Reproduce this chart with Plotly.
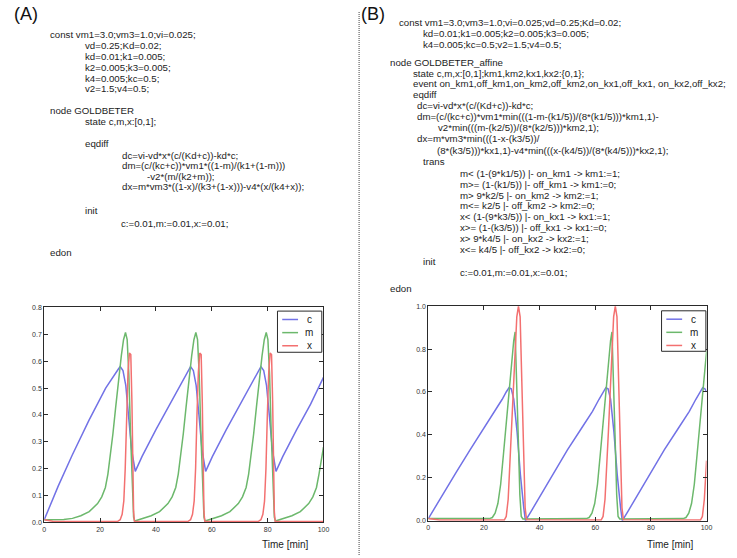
import plotly.graph_objects as go

# ---------------------------------------------------------------------------
# Simulated trajectories (time in minutes, concentrations)
# Panel A: continuous GOLDBETER model
# ---------------------------------------------------------------------------
a_c_t = [0, 5, 10, 16, 22, 25, 26.5, 27.2, 28.2, 29.2, 30.2, 31.3, 32.6,
         35, 40, 45, 49, 51, 52.4, 53.4, 54.4, 55.4, 56.5, 57.8,
         60.2, 65.2, 70.2, 74.2, 76.2, 77.6, 78.6, 79.6, 80.6, 81.7, 83.0,
         85.4, 90.4, 95.4, 100]
a_c = [0.01, 0.135, 0.25, 0.38, 0.50, 0.55, 0.57, 0.58, 0.565, 0.51, 0.40, 0.27, 0.19,
       0.245, 0.345, 0.44, 0.515, 0.555, 0.58, 0.565, 0.51, 0.40, 0.27, 0.19,
       0.245, 0.345, 0.44, 0.515, 0.555, 0.58, 0.565, 0.51, 0.40, 0.27, 0.19,
       0.245, 0.345, 0.44, 0.54]

a_m_t = [0, 4, 7,
         10.1, 13.1, 16.1, 19.1, 20.6, 21.9, 22.8, 23.6, 24.6, 25.6, 26.6, 27.6, 28.4,
         29.1, 29.7, 30.3, 30.9, 31.5, 32.0, 32.4,
         35.3, 38.3, 41.3, 44.3, 45.8, 47.1, 48.0, 48.8, 49.8, 50.8, 51.8, 52.8, 53.6,
         54.3, 54.9, 55.5, 56.1, 56.7, 57.2, 57.6,
         60.5, 63.5, 66.5, 69.5, 71.0, 72.3, 73.2, 74.0, 75.0, 76.0, 77.0, 78.0, 78.8,
         79.5, 80.1, 80.7, 81.3, 81.9, 82.4, 82.8,
         85.7, 88.7, 91.7, 94.7, 96.2, 97.5, 98.4, 99.2, 100]
a_m = [0.01, 0.009, 0.011,
       0.015, 0.025, 0.04, 0.07, 0.095, 0.13, 0.18, 0.24, 0.33, 0.43, 0.53, 0.62, 0.68,
       0.707, 0.68, 0.55, 0.33, 0.12, 0.02, 0.005,
       0.015, 0.025, 0.04, 0.07, 0.095, 0.13, 0.18, 0.24, 0.33, 0.43, 0.53, 0.62, 0.68,
       0.707, 0.68, 0.55, 0.33, 0.12, 0.02, 0.005,
       0.015, 0.025, 0.04, 0.07, 0.095, 0.13, 0.18, 0.24, 0.33, 0.43, 0.53, 0.62, 0.68,
       0.707, 0.68, 0.55, 0.33, 0.12, 0.02, 0.005,
       0.015, 0.025, 0.04, 0.07, 0.095, 0.13, 0.18, 0.24, 0.28]

a_x_t = [0, 3,
         26.2, 27.2, 27.9, 28.5, 29.0, 29.5, 30.0, 30.5, 31.0, 31.4, 31.7, 32.0, 32.3,
         51.4, 52.4, 53.1, 53.7, 54.2, 54.7, 55.2, 55.7, 56.2, 56.6, 56.9, 57.2, 57.5,
         76.6, 77.6, 78.3, 78.9, 79.4, 79.9, 80.4, 80.9, 81.4, 81.8, 82.1, 82.4, 82.7,
         100]
a_x = [0.01, 0.004,
       0.003, 0.01, 0.03, 0.08, 0.2, 0.4, 0.56, 0.63, 0.625, 0.45, 0.2, 0.04, 0.003,
       0.003, 0.01, 0.03, 0.08, 0.2, 0.4, 0.56, 0.63, 0.625, 0.45, 0.2, 0.04, 0.003,
       0.003, 0.01, 0.03, 0.08, 0.2, 0.4, 0.56, 0.63, 0.625, 0.45, 0.2, 0.04, 0.003,
       0.003]

# Panel B: GOLDBETER_affine (piecewise-affine hybrid model)
b_c_t = [0, 5, 10, 15, 20, 24, 26.5, 28, 29, 29.8, 30.7, 31.9, 33.1, 34.3, 34.9,
         37, 40, 45, 50, 55, 59, 61.3, 62.8, 63.8, 64.6, 65.5, 66.7, 67.9, 69.1, 69.7,
         71.8, 74.8, 79.8, 84.8, 89.8, 93.8, 96.1, 97.6, 98.6, 99.4, 100]
b_c = [0.01, 0.12, 0.225, 0.33, 0.43, 0.51, 0.565, 0.6, 0.62, 0.615, 0.567, 0.414, 0.214, 0.06, 0.0,
       0.045, 0.11, 0.22, 0.33, 0.43, 0.51, 0.565, 0.6, 0.62, 0.615, 0.567, 0.414, 0.214, 0.06, 0.0,
       0.045, 0.11, 0.22, 0.33, 0.43, 0.51, 0.565, 0.6, 0.62, 0.615, 0.6]

b_m_t = [0, 10, 22.0, 23.0, 24.0, 25.0, 26.0, 27.0, 28.0, 29.0, 30.0, 30.7, 31.2, 31.7, 32.3, 32.9, 33.4, 34.0,
         56.8, 57.8, 58.8, 59.8, 60.8, 61.8, 62.8, 63.8, 64.8, 65.5, 66.0, 66.5, 67.1, 67.7, 68.2, 68.8,
         91.6, 92.6, 93.6, 94.6, 95.6, 96.6, 97.6, 98.6, 99.6, 100]
b_m = [0.01, 0.01, 0.01, 0.015, 0.035, 0.08, 0.17, 0.31, 0.46, 0.62, 0.75, 0.84, 0.88, 0.70, 0.40, 0.12, 0.02, 0.008,
       0.01, 0.015, 0.035, 0.08, 0.17, 0.31, 0.46, 0.62, 0.75, 0.84, 0.88, 0.70, 0.40, 0.12, 0.02, 0.008,
       0.01, 0.015, 0.035, 0.08, 0.17, 0.31, 0.46, 0.62, 0.75, 0.79]

b_x_t = [0, 4, 27.3, 28.0, 28.7, 29.9, 31.0, 31.8, 32.4, 33.0, 33.6, 34.2, 34.8, 35.3,
         62.1, 62.8, 63.5, 64.7, 65.8, 66.6, 67.2, 67.8, 68.4, 69.0, 69.6, 70.1,
         97.8, 98.5, 99.2, 100]
b_x = [0.01, 0.003, 0.003, 0.02, 0.1, 0.41, 0.72, 0.95, 1.0, 0.95, 0.65, 0.3, 0.06, 0.005,
       0.003, 0.02, 0.1, 0.41, 0.72, 0.95, 1.0, 0.95, 0.65, 0.3, 0.06, 0.005,
       0.003, 0.02, 0.1, 0.28]

series_names = ["c", "m", "x"]
x_ticks = [0, 20, 40, 60, 80, 100]
a_y_ticks = [0.0, 0.1, 0.2, 0.3, 0.4, 0.5, 0.6, 0.7, 0.8]
b_y_ticks = [0.0, 0.2, 0.4, 0.6, 0.8, 1.0]
x_title = "Time [min]"

# ---------------------------------------------------------------------------
# Model listings printed above each plot
# ---------------------------------------------------------------------------
listing_a = [
    (47.7, 31.0, "const vm1=3.0;vm3=1.0;vi=0.025;"),
    (83.3, 42.0, "vd=0.25;Kd=0.02;"),
    (83.3, 53.0, "kd=0.01;k1=0.005;"),
    (83.3, 64.0, "k2=0.005;k3=0.005;"),
    (83.3, 75.0, "k4=0.005;kc=0.5;"),
    (83.3, 85.7, "v2=1.5;v4=0.5;"),
    (47.7, 108.3, "node GOLDBETER"),
    (83.3, 119.0, "state c,m,x:[0,1];"),
    (83.3, 141.7, "eqdiff"),
    (120.0, 153.0, "dc=vi-vd*x*(c/(Kd+c))-kd*c;"),
    (120.0, 163.7, "dm=(c/(kc+c))*vm1*((1-m)/(k1+(1-m)))"),
    (145.7, 174.3, "-v2*(m/(k2+m));"),
    (120.0, 185.0, "dx=m*vm3*((1-x)/(k3+(1-x)))-v4*(x/(k4+x));"),
    (83.3, 209.0, "init"),
    (119.0, 222.5, "c:=0.01,m:=0.01,x:=0.01;"),
    (47.7, 251.7, "edon"),
]

listing_b = [
    (400.0, 19.0, "const vm1=3.0;vm3=1.0;vi=0.025;vd=0.25;Kd=0.02;"),
    (425.0, 30.0, "kd=0.01;k1=0.005;k2=0.005;k3=0.005;"),
    (425.0, 41.0, "k4=0.005;kc=0.5;v2=1.5;v4=0.5;"),
    (391.7, 59.0, "node GOLDBETER_affine"),
    (415.0, 70.0, "state c,m,x:[0,1];km1,km2,kx1,kx2:{0,1};"),
    (415.0, 81.0, "event on_km1,off_km1,on_km2,off_km2,on_kx1,off_kx1, on_kx2,off_kx2;"),
    (415.0, 92.0, "eqdiff"),
    (418.3, 103.0, "dc=vi-vd*x*(c/(Kd+c))-kd*c;"),
    (418.3, 114.0, "dm=(c/(kc+c))*vm1*min(((1-m-(k1/5))/(8*(k1/5)))*km1,1)-"),
    (440.0, 125.0, "v2*min(((m-(k2/5))/(8*(k2/5)))*km2,1);"),
    (418.3, 136.5, "dx=m*vm3*min(((1-x-(k3/5))/"),
    (438.3, 148.0, "(8*(k3/5)))*kx1,1)-v4*min(((x-(k4/5))/(8*(k4/5)))*kx2,1);"),
    (425.0, 160.0, "trans"),
    (461.7, 171.5, "m&lt; (1-(9*k1/5)) |- on_km1 -&gt; km1:=1;"),
    (461.7, 182.5, "m&gt;= (1-(k1/5)) |- off_km1 -&gt; km1:=0;"),
    (461.7, 193.5, "m&gt; 9*k2/5 |- on_km2 -&gt; km2:=1;"),
    (461.7, 204.5, "m&lt;= k2/5 |- off_km2 -&gt; km2:=0;"),
    (461.7, 215.5, "x&lt; (1-(9*k3/5)) |- on_kx1 -&gt; kx1:=1;"),
    (461.7, 226.5, "x&gt;= (1-(k3/5)) |- off_kx1 -&gt; kx1:=0;"),
    (461.7, 237.5, "x&gt; 9*k4/5 |- on_kx2 -&gt; kx2:=1;"),
    (461.7, 248.5, "x&lt;= k4/5 |- off_kx2 -&gt; kx2:=0;"),
    (425.0, 261.0, "init"),
    (461.7, 272.0, "c:=0.01,m:=0.01,x:=0.01;"),
    (391.7, 288.0, "edon"),
]

# ---------------------------------------------------------------------------
# Figure geometry (pixels -> paper coordinates)
# ---------------------------------------------------------------------------
W, H = 737, 558
FONT = "Liberation Sans, Arial, sans-serif"
TEXT_COLOR = "#1c1c1c"
AXIS_COLOR = "#2a2a2a"
LINE_COLORS = ["#7272e6", "#6cb86c", "#f37070"]


def px(x):
    return x / W


def py(y):
    return 1 - y / H


panels = [
    # (axis suffix, domain x px, domain y px, y ticks, data, legend box px, title x px)
    ("", (42.7, 325.0), (525.0, 307.3), a_y_ticks,
     [(a_c_t, a_c), (a_m_t, a_m), (a_x_t, a_x)], (278.5, 311.0, 323.3, 352.7), 287.0),
    ("2", (431.0, 712.3), (523.3, 306.0), b_y_ticks,
     [(b_c_t, b_c), (b_m_t, b_m), (b_x_t, b_x)], (666.8, 310.7, 711.6, 351.7), 676.0),
]

fig = go.Figure()
shapes = []
annotations = []
layout_axes = {}

for suffix, (x0, x1), (y0, y1), yticks, series, (lx0, ly0, lx1, ly1), title_x in panels:
    xa = "x" + suffix
    ya = "y" + suffix
    for (t, v), name, color in zip(series, series_names, LINE_COLORS):
        fig.add_trace(go.Scatter(
            x=t, y=v, mode="lines", name=name, xaxis=xa, yaxis=ya,
            line=dict(color=color, width=1.5), showlegend=False,
            hoverinfo="skip",
        ))
    common = dict(
        showgrid=False, zeroline=False, showline=True, linecolor=AXIS_COLOR,
        linewidth=1, mirror="allticks", ticks="inside", ticklen=4,
        tickcolor=AXIS_COLOR, tickwidth=1,
        tickfont=dict(family=FONT, size=7, color="#333333"),
    )
    layout_axes["xaxis" + suffix] = dict(
        common, domain=[px(x0), px(x1)], anchor=ya, range=[0, 100],
        tickvals=x_ticks, ticktext=[str(v) for v in x_ticks],
    )
    layout_axes["yaxis" + suffix] = dict(
        common, domain=[py(y0), py(y1)], anchor=xa,
        range=[yticks[0], yticks[-1]], tickvals=yticks,
        ticktext=["%.1f" % v for v in yticks],
    )

    # legend box drawn in the upper-right corner of the axes
    shapes.append(dict(type="rect", xref="paper", yref="paper",
                       x0=px(lx0), x1=px(lx1), y0=py(ly1), y1=py(ly0),
                       line=dict(color=AXIS_COLOR, width=1), fillcolor="white",
                       layer="above"))
    for i, (name, color) in enumerate(zip(series_names, LINE_COLORS)):
        ey = ly0 + 8.5 + i * 13.3
        shapes.append(dict(type="line", xref="paper", yref="paper",
                           x0=px(lx1 - 40), x1=px(lx1 - 24), y0=py(ey), y1=py(ey),
                           line=dict(color=color, width=1.5), layer="above"))
        annotations.append(dict(xref="paper", yref="paper", x=px(lx1 - 12.5),
                                y=py(ey), text=name, showarrow=False,
                                xanchor="center", yanchor="middle",
                                font=dict(family=FONT, size=10, color=TEXT_COLOR)))

    annotations.append(dict(xref="paper", yref="paper", x=px(title_x), y=py(547),
                            text=x_title, showarrow=False, xanchor="center",
                            yanchor="middle",
                            font=dict(family=FONT, size=10, color=TEXT_COLOR)))

# code listings
for x, y, line in listing_a + listing_b:
    annotations.append(dict(xref="paper", yref="paper", x=px(x), y=py(y),
                            text=line, showarrow=False, xanchor="left",
                            yanchor="middle", borderpad=0,
                            font=dict(family=FONT, size=9.7, color=TEXT_COLOR)))

# panel letters
for x, letter in [(24.7, "(A)"), (375.0, "(B)")]:
    annotations.append(dict(xref="paper", yref="paper", x=px(x), y=py(10.5),
                            text=letter, showarrow=False, xanchor="center",
                            yanchor="middle",
                            font=dict(family=FONT, size=18, color="#111111")))

# dotted separator between the two panels
shapes.append(dict(type="line", xref="paper", yref="paper",
                   x0=px(361), x1=px(361), y0=0, y1=py(8),
                   line=dict(color="#444444", width=1, dash="1px,1px")))

fig.update_layout(
    width=W, height=H, margin=dict(l=0, r=0, t=0, b=0),
    paper_bgcolor="white", plot_bgcolor="white",
    shapes=shapes, annotations=annotations, showlegend=False,
    **layout_axes,
)

fig.write_html("out.html")
